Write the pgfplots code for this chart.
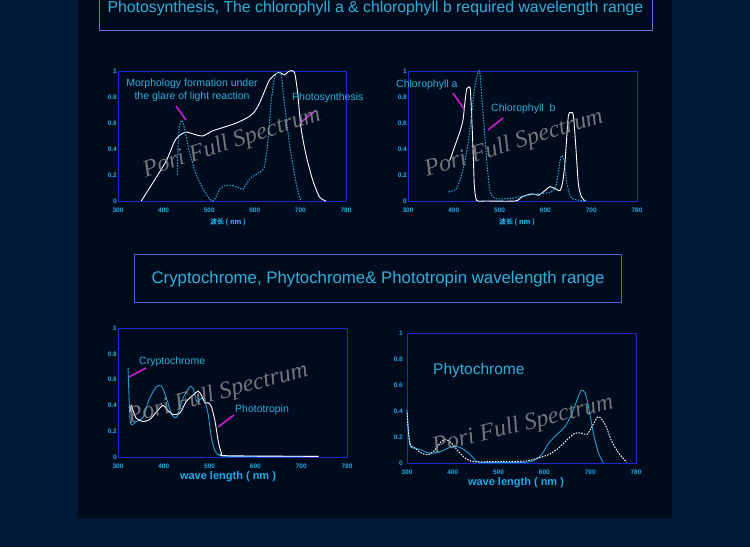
\documentclass[border=0pt]{standalone}
\usepackage{fontspec}
\setmainfont{Liberation Sans}
\newfontfamily\cjk{Noto Sans CJK SC}
\newfontfamily\wm{Liberation Serif}
\usepackage{pgfplots}
\pgfplotsset{compat=1.18}

\definecolor{outerbg}{RGB}{1,24,54}
\definecolor{innerbg}{RGB}{0,11,30}
\definecolor{frame}{RGB}{30,40,205}
\definecolor{tickc}{RGB}{30,170,230}
\definecolor{txtc}{RGB}{50,175,215}
\definecolor{pinkc}{RGB}{200,30,210}
\definecolor{dashc}{RGB}{40,170,215}
\definecolor{solc}{RGB}{30,160,210}
\definecolor{boxa}{RGB}{110,110,220}
\definecolor{boxb}{RGB}{70,100,220}

\pgfplotsset{
  sp/.style={
    scale only axis, xmin=300, xmax=800, ymin=0, ymax=1,
    axis line style={draw=frame, line width=0.8pt},
    xtick={300,400,500,600,700,800},
    xticklabels={300,400,500,600,700,780},
    ytick={0,0.2,0.4,0.6,0.8,1},
    yticklabels={0,0.2,0.4,0.6,0.8,1},
    major tick length=0pt,
    tick label style={font=\bfseries\fontsize{6.5}{7}\selectfont, text=tickc},
    xticklabel style={yshift=-3pt},
    yticklabel style={inner sep=1pt},
    clip=false,
  },
  wline/.style={white, line width=0.9pt, smooth, tension=0.4, no markers},
  dline/.style={dashc, line width=1pt, dash pattern=on 1.5pt off 1.3pt, smooth, tension=0.4, no markers},
  wdline/.style={white, line width=1pt, dash pattern=on 1.5pt off 1.3pt, smooth, tension=0.4, no markers},
  cline/.style={solc, line width=0.9pt, smooth, tension=0.4, no markers},
}

\begin{document}
\begin{tikzpicture}[x=1pt,y=1pt]
\useasboundingbox (0,0) rectangle (750,547);
\fill[outerbg] (0,0) rectangle (750,547);
\fill[innerbg] (78,29) rectangle (672,547);

% title boxes
\draw[boxa, line width=0.8pt] (99,547) -- (99,517) -- (652,517) -- (652,547);
\node[anchor=base, text=txtc, font=\fontsize{15.8}{18}\selectfont, inner sep=0] at (375.5,534) {Photosynthesis, The chlorophyll a \& chlorophyll b required wavelength range};
\draw[boxb, line width=0.8pt] (134,293) rectangle (621,245);
\node[anchor=base, text=txtc, font=\fontsize{16.8}{18}\selectfont, inner sep=0] at (378,263) {Cryptochrome, Phytochrome\& Phototropin wavelength range};

% chart 1
\begin{axis}[sp, at={(118pt,346pt)}, anchor=south west, width=228pt, height=130pt]
\addplot[wline] coordinates {
(351,0) (380,0.16) (406,0.31) (424,0.46) (435,0.505) (450,0.53) (470,0.51) (486,0.50)
(508,0.54) (530,0.565) (552,0.59) (566,0.61) (588,0.65) (600,0.69) (610,0.75) (622,0.85)
(632,0.93) (645,0.975) (654,0.99) (665,0.97) (676,1.0) (687,0.99) (694,0.83) (701,0.57)
(712,0.36) (727,0.16) (742,0.03) (756,0)
};
\addplot[dline] coordinates {
(430,0.2) (432,0.45) (435,0.58) (439,0.62) (443,0.6) (448,0.52) (455,0.4) (463,0.3)
(471,0.21) (485,0.1) (500,0.02) (508,0.0) (515,0.03) (523,0.09) (532,0.115) (541,0.12)
(550,0.12) (559,0.11) (574,0.09) (581,0.13) (592,0.18) (610,0.22) (621,0.26) (628,0.44)
(636,0.77) (643,0.94) (648,0.98) (653,0.985) (658,0.97) (665,0.75) (676,0.44) (691,0.13) (701,0)
};
\end{axis}

% chart 2
\begin{axis}[sp, at={(408pt,346pt)}, anchor=south west, width=229pt, height=130pt]
\addplot[wline] coordinates {
(391,0.31) (402,0.42) (413,0.53) (420,0.62) (424,0.75) (428,0.86) (431,0.87) (436,0.86)
(440,0.57) (443,0.3) (445,0.11) (450,0.005) (470,0.0) (534,0.0) (548,0.03) (570,0.055)
(585,0.045) (599,0.08) (610,0.11) (621,0.095) (632,0.08) (638,0.15) (643,0.31) (650,0.65)
(656,0.68) (661,0.66) (666,0.44) (672,0.13) (679,0.03) (687,0)
};
\addplot[dline] coordinates {
(388,0.07) (406,0.095) (420,0.24) (431,0.44) (440,0.70) (446,0.88) (453,0.99) (457,0.98)
(464,0.67) (472,0.31) (479,0.08) (490,0.02) (526,0.02) (555,0.04) (584,0.055) (613,0.07)
(624,0.13) (632,0.31) (636,0.35) (641,0.31) (647,0.13) (658,0.02) (690,0)
};
\end{axis}

% chart 3
\begin{axis}[sp, at={(118pt,90pt)}, anchor=south west, width=229pt, height=129pt]
\addplot[cline] coordinates {
(322,0.69) (327,0.27) (340,0.275) (355,0.31) (369,0.455) (384,0.545) (395,0.55) (406,0.455)
(417,0.33) (428,0.31) (442,0.455) (457,0.545) (464,0.53) (472,0.43) (482,0.455) (490,0.43)
(497,0.33) (504,0.15) (512,0.045) (523,0.01) (552,0.005) (734,0.005)
};
\addplot[wline] coordinates {
(326,0.35) (329,0.40) (333,0.36) (340,0.30) (355,0.275) (369,0.29) (384,0.35) (398,0.40)
(409,0.36) (420,0.33) (435,0.34) (449,0.43) (464,0.48) (475,0.51) (482,0.48) (490,0.42)
(497,0.42) (504,0.39) (512,0.275) (519,0.12) (526,0.03) (537,0.01) (738,0.005)
};
\end{axis}

% chart 4
\begin{axis}[sp, at={(407pt,84pt)}, anchor=south west, width=229pt, height=130pt,
  yticklabel style={inner sep=4pt}]
\addplot[cline] coordinates {
(300,0.41) (306,0.14) (317,0.115) (331,0.10) (346,0.077) (361,0.077) (375,0.09) (390,0.115)
(404,0.13) (419,0.115) (434,0.077) (445,0.04) (459,0.005) (558,0.005) (580,0.025) (594,0.064)
(609,0.15) (623,0.205) (645,0.28) (660,0.38) (674,0.51) (681,0.56) (689,0.54) (696,0.44)
(707,0.23) (718,0.077) (729,0)
};
\addplot[wdline] coordinates {
(300,0.385) (306,0.155) (317,0.115) (331,0.077) (346,0.064) (361,0.10) (375,0.167) (386,0.18)
(397,0.154) (412,0.09) (426,0.04) (441,0.013) (455,0.008) (500,0.012) (560,0.015) (587,0.04)
(609,0.064) (631,0.115) (653,0.19) (667,0.23) (681,0.23) (693,0.22) (704,0.28) (715,0.35)
(722,0.35) (733,0.295) (747,0.167) (762,0.077) (780,0.005)
};
\end{axis}

% axis labels
\node[text=tickc, font=\cjk\bfseries\fontsize{7}{8}\selectfont] at (228,325) {波长 ( nm )};
\node[text=tickc, font=\cjk\bfseries\fontsize{7}{8}\selectfont] at (517,325) {波长 ( nm )};
\node[text=tickc, font=\bfseries\fontsize{11}{12}\selectfont] at (228,70) {wave length ( nm )};
\node[text=tickc, font=\bfseries\fontsize{11}{12}\selectfont] at (516,64) {wave length ( nm )};

% annotations
\begin{scope}[every node/.style={text=txtc, font=\fontsize{10.5}{13}\selectfont, inner sep=0}]
\node[align=center] at (192,457) {Morphology formation under\\the glare of light reaction};
\node[anchor=west] at (292,449) {Photosynthesis};
\node[anchor=west] at (396,462) {Chlorophyll a};
\node[anchor=west] at (491,438) {Chlorophyll\ \ b};
\node[anchor=west] at (139,185) {Cryptochrome};
\node[anchor=west] at (235,137) {Phototropin};
\node[anchor=west, font=\fontsize{15.5}{17}\selectfont] at (433,177) {Phytochrome};
\end{scope}
\begin{scope}[pinkc, line width=1.6pt]
\draw (176,441) -- (186,427);
\draw (300,424) -- (315,436);
\draw (453,454) -- (464,438);
\draw (488,417) -- (503,429);
\draw (129,170) -- (146,179);
\draw (218,120) -- (234,132);
\end{scope}

% watermarks
\begin{scope}[every node/.style={text=gray!80, opacity=0.75, font=\wm\itshape\fontsize{24}{26}\selectfont}]
\node[rotate=18] at (232,404) {Pori Full Spectrum};
\node[rotate=17] at (514,403) {Pori Full Spectrum};
\node[rotate=15] at (218,153) {Pori Full Spectrum};
\node[rotate=14] at (523,122) {Pori Full Spectrum};
\end{scope}
\end{tikzpicture}
\end{document}
